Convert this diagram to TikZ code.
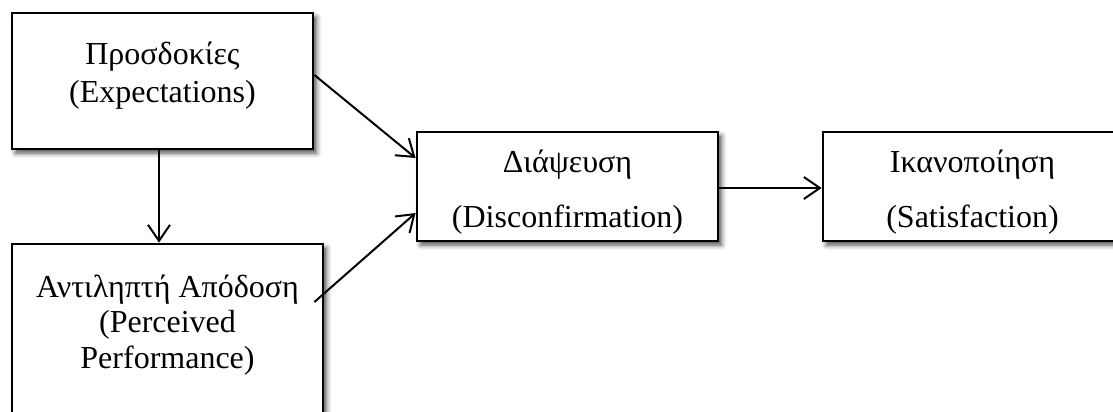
\documentclass[tikz,border=0pt]{standalone}
\usepackage{fontspec}
\setmainfont{Liberation Serif}
\usetikzlibrary{arrows.meta,shadows.blur}
\begin{document}
\begin{tikzpicture}[x=1pt,y=-1pt,
  boxs/.style={draw=black,line width=2.8pt,fill=white,rectangle,inner sep=0pt,
    blur shadow={shadow xshift=3.5pt,shadow yshift=-4pt,shadow blur radius=5pt,shadow opacity=70}},
  lbl/.style={anchor=base,inner sep=0pt,font=\fontsize{32}{37}\selectfont},
  arr/.style={line width=2pt,-{Straight Barb[length=16pt,width=22pt,line width=2pt]}}]
\path[use as bounding box,clip] (0,0) rectangle (1113,412);
\node[boxs,minimum width=301pt,minimum height=136pt] (b1) at (162.5,81) {};
\node[boxs,minimum width=311pt,minimum height=216pt] (b2) at (167.5,352) {};
\node[boxs,minimum width=301pt,minimum height=109pt] (b3) at (567.5,186.5) {};
\node[boxs,minimum width=299pt,minimum height=109pt] (b4) at (972.5,186.5) {};
\node[lbl] (t1a) at (162.5,65) {Προσδοκίες};
\node[lbl] (t1b) at (162.5,102) {(Expectations)};
\node[lbl] (t2a) at (167.5,297) {Αντιληπτή Απόδοση};
\node[lbl] (t2b) at (167.5,332) {(Perceived};
\node[lbl] (t2c) at (167.5,368) {Performance)};
\node[lbl] (t3a) at (567.5,172) {Διάψευση};
\node[lbl] (t3b) at (567.5,227) {(Disconfirmation)};
\node[lbl] (t4a) at (972.5,172) {Ικανοποίηση};
\node[lbl] (t4b) at (972.5,227) {(Satisfaction)};
\draw[arr] ([yshift=6pt]b1.east) -- ([yshift=28.5pt]b3.west);
\draw[arr] ([xshift=-10pt,yshift=50pt]b2.east) -- ([yshift=-26.5pt]b3.west);
\draw[arr] ([xshift=-3.5pt]b1.south) -- ([xshift=-8.5pt]b2.north);
\draw[arr] ([yshift=-1.5pt]b3.east) -- ([yshift=-1.5pt]b4.west);
\end{tikzpicture}
\end{document}
